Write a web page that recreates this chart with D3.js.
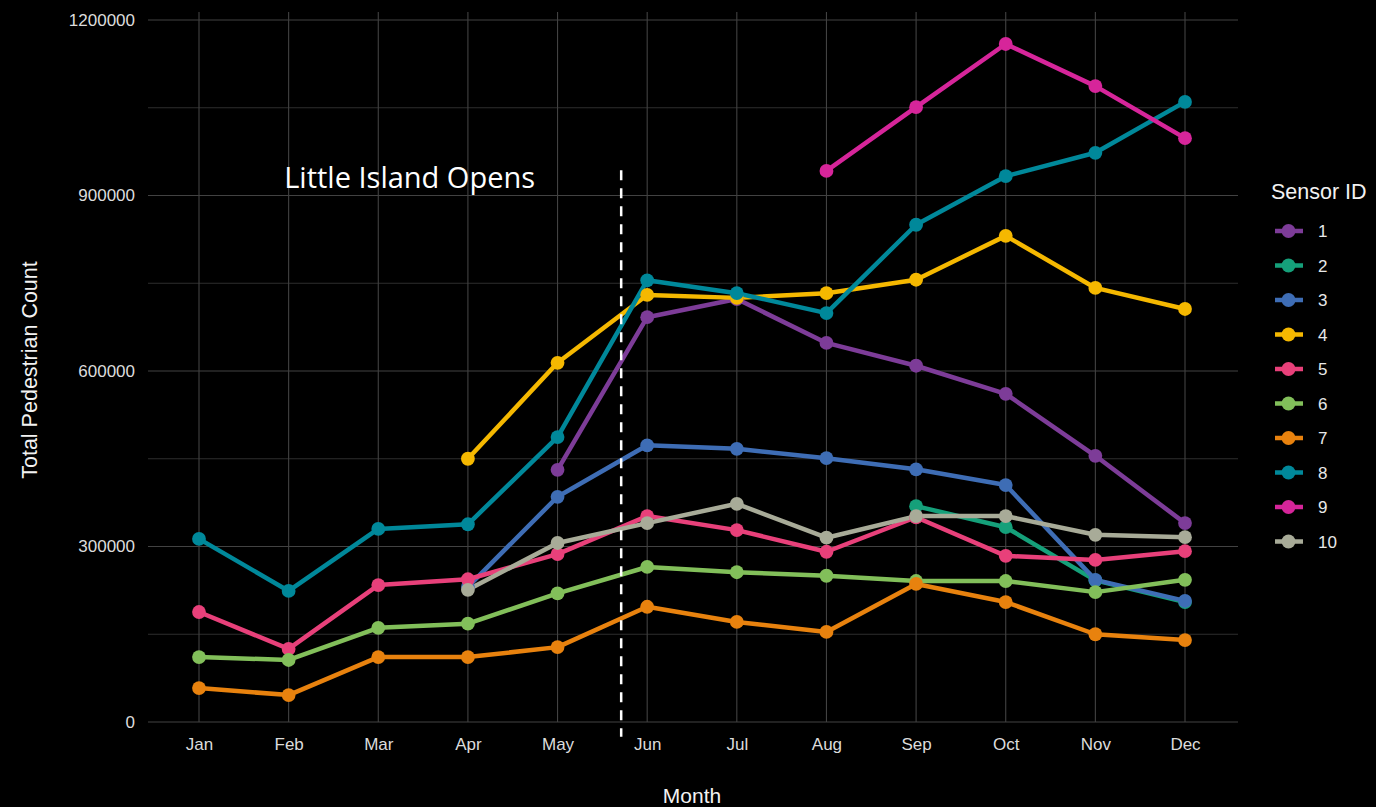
<!DOCTYPE html>
<html><head><meta charset="utf-8">
<script src="https://cdn.jsdelivr.net/npm/d3@7"></script>
<style>body{margin:0;background:#000;}svg{display:block;font-family:"Liberation Sans",Arial,sans-serif;}</style>
</head><body>
<svg id="chart" width="1376" height="807"></svg>
<script>
const months = ["Jan","Feb","Mar","Apr","May","Jun","Jul","Aug","Sep","Oct","Nov","Dec"];
const sensorIds = ["1","2","3","4","5","6","7","8","9","10"];
const sensorColors = ["#7D3C98","#15A07A","#3E6DB5","#F5B800","#E8407A","#82BF5A","#E8820E","#00889A","#D6259A","#A8AB98"];
const yTicks = [0,300000,600000,900000,1200000];
// values per sensor, null = no data
const s1  = [null,null,null,null,431000,692000,723000,648000,609000,561000,455000,340000];
const s2  = [null,null,null,null,null,null,null,null,369000,333000,242000,205000];
const s3  = [null,null,null,231000,385000,473000,467000,451000,432000,405000,243000,207000];
const s4  = [null,null,null,450000,614000,730000,725000,733000,756000,831000,742000,706000];
const s5  = [188000,125000,234000,244000,287000,352000,328000,291000,350000,284000,277000,292000];
const s6  = [111000,106000,161000,168000,220000,265000,256000,250000,241000,241000,222000,243000];
const s7  = [58000,46000,111000,111000,128000,197000,171000,154000,236000,205000,150000,140000];
const s8  = [313000,224000,330000,338000,487000,755000,733000,699000,850000,933000,973000,1060000];
const s9  = [null,null,null,null,null,null,null,942000,1051000,1159000,1087000,998000];
const s10 = [null,null,null,226000,306000,340000,373000,315000,352000,352000,320000,316000];
const seriesValues = [s1,s2,s3,s4,s5,s6,s7,s8,s9,s10];
const openingMonthPos = 4.71; // between May and Jun
const openingLabel = "Little Island Opens";

const svg = d3.select("#chart");
const panel = {left:148, right:1238, top:12, bottom:722};
const x = d3.scalePoint().domain(months).range([199,1185]);
const xPos = i => x(months[0]) + i*x.step();
const y = d3.scaleLinear().domain([0,1200000]).range([722,20]);

// minor grid
const minor = [150000,450000,750000,1050000];
svg.append("g").selectAll("line").data(minor).join("line")
  .attr("x1",panel.left).attr("x2",panel.right)
  .attr("y1",d=>y(d)).attr("y2",d=>y(d))
  .attr("stroke","#2e2e2e").attr("stroke-width",1);
// major grid
svg.append("g").selectAll("line").data(yTicks).join("line")
  .attr("x1",panel.left).attr("x2",panel.right)
  .attr("y1",d=>y(d)).attr("y2",d=>y(d))
  .attr("stroke","#424242").attr("stroke-width",1.1);
svg.append("g").selectAll("line").data(months).join("line")
  .attr("x1",d=>x(d)).attr("x2",d=>x(d))
  .attr("y1",panel.top).attr("y2",panel.bottom)
  .attr("stroke","#424242").attr("stroke-width",1.1);

// axes
const yAxis = svg.append("g").attr("transform",`translate(${panel.left},0)`)
  .call(d3.axisLeft(y).tickValues(yTicks).tickFormat(d3.format("d")).tickSize(0).tickPadding(13));
yAxis.select(".domain").remove();
yAxis.selectAll("text").attr("fill","#dcdcdc").style("font-size","17px");
const xAxis = svg.append("g").attr("transform",`translate(0,${panel.bottom})`)
  .call(d3.axisBottom(x).tickSize(0).tickPadding(16));
xAxis.select(".domain").remove();
xAxis.selectAll("text").attr("fill","#dcdcdc").style("font-size","17px");

svg.append("text").attr("x",692).attr("y",803).attr("text-anchor","middle")
  .attr("fill","#f2f2f2").style("font-size","21px").text("Month");
svg.append("text").attr("transform","translate(37,370) rotate(-90)").attr("text-anchor","middle")
  .attr("fill","#f2f2f2").style("font-size","21.5px").text("Total Pedestrian Count");

// lines
const line = d3.line().defined(d=>d!=null).x((d,i)=>xPos(i)).y(d=>y(d));
seriesValues.forEach((vals,k)=>{
  svg.append("path").datum(vals).attr("d",line).attr("fill","none")
    .attr("stroke",sensorColors[k]).attr("stroke-width",4.5).attr("stroke-linejoin","round");
});
seriesValues.forEach((vals,k)=>{
  svg.append("g").selectAll("circle")
    .data(vals.map((v,i)=>({v,i})).filter(d=>d.v!=null)).join("circle")
    .attr("cx",d=>xPos(d.i)).attr("cy",d=>y(d.v)).attr("r",6.9).attr("fill",sensorColors[k]);
});

// opening marker
const xo = xPos(openingMonthPos);
svg.append("line").attr("x1",xo).attr("x2",xo).attr("y1",y(943000)).attr("y2",y(-25000))
  .attr("stroke","#fff").attr("stroke-width",2.5).attr("stroke-dasharray","10,8");
svg.append("text").attr("x",xPos(2.35)).attr("y",188).attr("text-anchor","middle")
  .attr("fill","#fff").style("font-size","29px").style("font-family","'Open Sans',sans-serif")
  .text(openingLabel);

// legend
const lg = svg.append("g");
lg.append("text").attr("x",1271).attr("y",199).attr("fill","#f2f2f2").style("font-size","21.5px").text("Sensor ID");
sensorIds.forEach((id,k)=>{
  const yy = 231 + k*34.5;
  lg.append("line").attr("x1",1275).attr("x2",1303).attr("y1",yy).attr("y2",yy)
    .attr("stroke",sensorColors[k]).attr("stroke-width",4.5);
  lg.append("circle").attr("cx",1288.5).attr("cy",yy).attr("r",6.9).attr("fill",sensorColors[k]);
  lg.append("text").attr("x",1318).attr("y",yy+6).attr("fill","#e8e8e8").style("font-size","17px").text(id);
});
</script>
</body></html>
